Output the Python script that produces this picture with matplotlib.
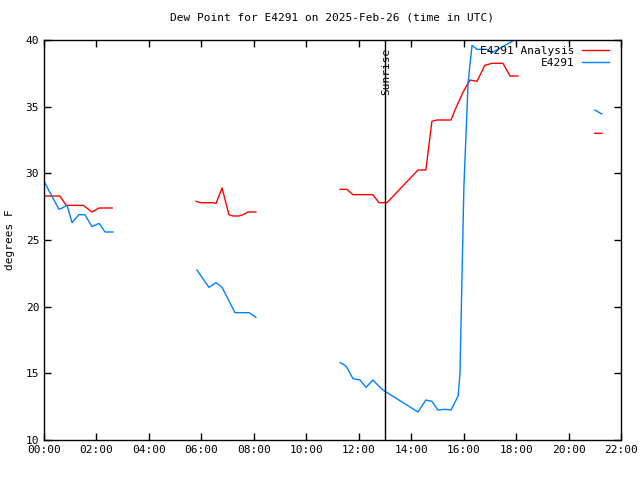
import numpy as np
import matplotlib
matplotlib.use("Agg")
import matplotlib.pyplot as plt

nan = np.nan
# Times in decimal hours (UTC)
red_t = [0, 0.6, 0.85, 1.5, 1.83, 2.1, 2.6, nan,
         5.80, 5.95, 6.44, 6.56, 6.79, 7.05, 7.21, 7.43, 7.59, 7.78, 8.08, nan,
         11.29, 11.55, 11.78, 12.54, 12.77, 13.08, 13.92, 14.26, 14.56, 14.79, 14.98,
         15.52, 15.67, 15.98, 16.24, 16.51, 16.81, 17.08, 17.50, 17.77, 18.07, nan,
         21.0, 21.27]
red_v = [28.3, 28.3, 27.6, 27.6, 27.1, 27.4, 27.4, nan,
         27.9, 27.8, 27.8, 27.75, 28.9, 26.9, 26.8, 26.8, 26.9, 27.1, 27.1, nan,
         28.8, 28.8, 28.4, 28.4, 27.8, 27.8, 29.55, 30.25, 30.25, 33.9, 34.0,
         34.0, 34.75, 36.1, 37.0, 36.9, 38.1, 38.25, 38.25, 37.3, 37.3, nan,
         33.0, 33.0]

blue_t = [0, 0.57, 0.69, 0.88, 1.07, 1.33, 1.56, 1.83, 2.10, 2.33, 2.63, nan,
          5.83, 6.29, 6.56, 6.79, 7.28, 7.82, 8.08, nan,
          11.29, 11.48, 11.59, 11.78, 12.05, 12.28, 12.54, 12.81, 12.96, 14.26, 14.56,
          14.79, 15.02, 15.29, 15.52, 15.79, 15.86, 16.01, 16.17, 16.32, 16.51, 16.89,
          17.08, 18.03, nan,
          21.0, 21.27]
blue_v = [29.4, 27.3, 27.4, 27.6, 26.3, 26.9, 26.9, 26.0, 26.25, 25.6, 25.6, nan,
          22.75, 21.45, 21.8, 21.45, 19.55, 19.55, 19.2, nan,
          15.8, 15.6, 15.3, 14.6, 14.5, 13.95, 14.5, 13.95, 13.7, 12.1, 13.0,
          12.9, 12.25, 12.3, 12.25, 13.3, 15.0, 29.0, 36.8, 39.6, 39.3, 39.3,
          39.05, 40.1, nan,
          34.75, 34.45]

sunrise_t = 13.0
x_ticks = list(range(0, 23, 2))
x_labels = ["%02d:00" % h for h in x_ticks]
y_ticks = [10, 15, 20, 25, 30, 35, 40]

plt.rcParams['font.family'] = ['DejaVu Sans Mono']
plt.rcParams['font.size'] = 8

fig = plt.figure(figsize=(6.4, 4.8), dpi=100)
ax = fig.add_axes([44/640, 40/480, 577/640, 400/480])

ax.plot(red_t, red_v, color='#ff0000', lw=1.0, label='E4291 Analysis')
ax.plot(blue_t, blue_v, color='#0080ff', lw=1.0, label='E4291')
ax.axvline(sunrise_t, color='black', lw=1.0)
ax.text(sunrise_t + 0.05, 39.4, 'Sunrise', rotation=90, ha='center', va='top', fontsize=8)

ax.set_xlim(0, 22)
ax.set_ylim(10, 40)
ax.set_xticks(x_ticks)
ax.set_xticklabels(x_labels)
ax.set_yticks(y_ticks)
ax.tick_params(direction='in', top=True, right=True, length=5, width=1, labelsize=8)
for s in ax.spines.values():
    s.set_linewidth(1.0)
ax.set_ylabel('degrees F', fontsize=8, labelpad=8)
ax.set_title('Dew Point for E4291 on 2025-Feb-26 (time in UTC)', fontsize=8, pad=14)

leg = ax.legend(loc='upper right', frameon=False, fontsize=8, markerfirst=False,
                handlelength=2.45, handletextpad=0.6, borderaxespad=0.0, borderpad=0.0,
                labelspacing=0.2, bbox_to_anchor=(0.979, 0.985))
for t in leg.get_texts():
    t.set_ha('right')

fig.savefig('out.png', dpi=100)
